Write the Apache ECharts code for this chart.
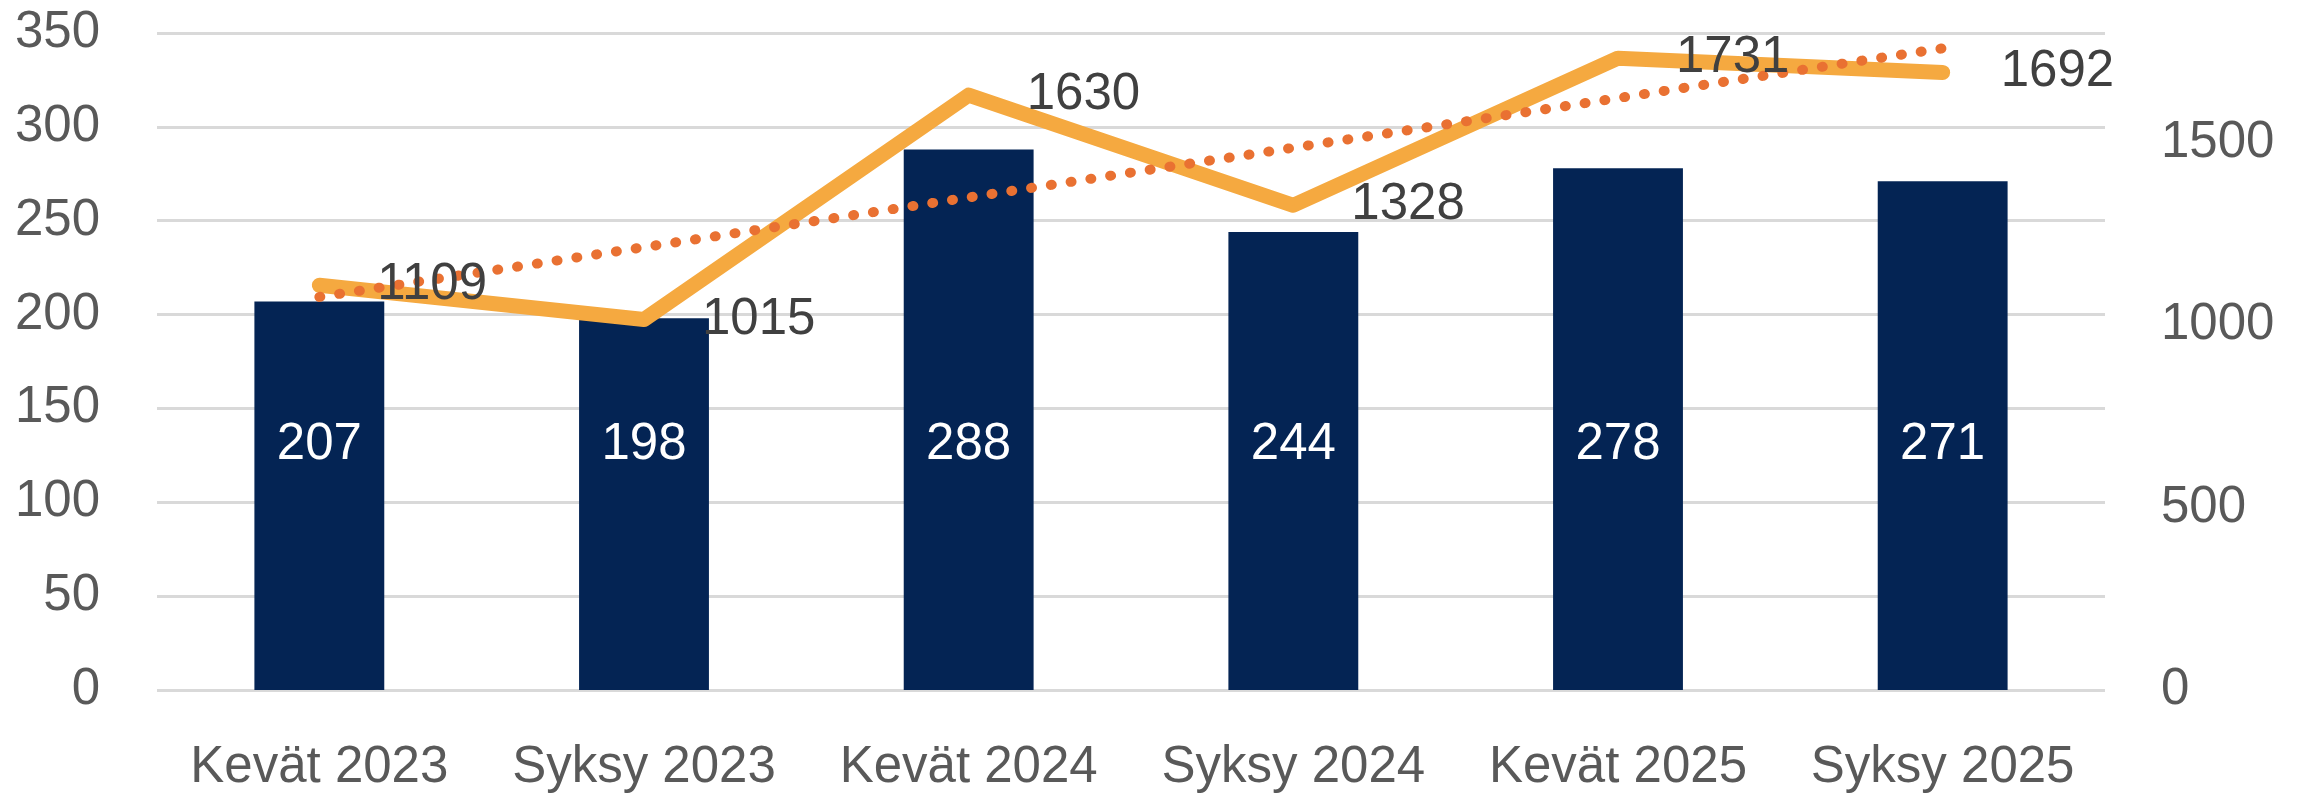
<!DOCTYPE html>
<html>
<head>
<meta charset="utf-8">
<script src="https://cdn.jsdelivr.net/npm/echarts@6/dist/echarts.min.js"></script>
<style>
  html, body { margin: 0; padding: 0; background: #fff; }
  #chart { width: 2305px; height: 793px; }
</style>
</head>
<body>
<div id="chart"></div>
<script>
// categories and values
const categories = ['Kevät 2023', 'Syksy 2023', 'Kevät 2024', 'Syksy 2024', 'Kevät 2025', 'Syksy 2025']
const barValues = [207, 198, 288, 244, 278, 271]
const lineValues = [1109, 1015, 1630, 1328, 1731, 1692]
// dotted trend line: start and end
const trendValues = [1077, null, null, null, null, 1758]

const font = 'Liberation Sans, Arial, sans-serif'

const option = {
  animation: false,
  grid: { left: 157, right: 200, top: 33, bottom: 103 },
  xAxis: {
    type: 'category',
    data: categories,
    axisLine: { show: false },
    axisTick: { show: false },
    axisLabel: { color: '#595959', fontSize: 51, fontFamily: font, margin: 52, interval: 0 },
  },
  yAxis: [
    {
      type: 'value',
      min: 0,
      max: 350,
      interval: 50,
      axisLine: { show: false },
      axisTick: { show: false },
      axisLabel: { color: '#595959', fontSize: 51, fontFamily: font, margin: 57 },
      splitLine: { lineStyle: { color: '#D9D9D9', width: 3 } },
    },
    {
      type: 'value',
      min: 0,
      max: 1800,
      interval: 500,
      axisLine: { show: false },
      axisTick: { show: false },
      axisLabel: {
        color: '#595959',
        fontSize: 51,
        fontFamily: font,
        margin: 56,
        showMaxLabel: false,
        formatter: (v) => String(v),
      },
      splitLine: { show: false },
    },
  ],
  series: [
    {
      type: 'bar',
      data: barValues,
      barCategoryGap: '60%',
      itemStyle: { color: '#042454' },
      label: {
        show: true,
        position: 'insideBottom',
        distance: 220,
        color: '#fff',
        fontSize: 51,
        fontFamily: font,
      },
    },
    {
      type: 'line',
      yAxisIndex: 1,
      data: lineValues,
      symbol: 'circle',
      symbolSize: 2,
      itemStyle: { color: '#F5A940' },
      lineStyle: { color: '#F5A940', width: 15, cap: 'round', join: 'round' },
      label: {
        show: true,
        position: 'right',
        distance: 57,
        color: '#404040',
        fontSize: 51,
        fontFamily: font,
      },
    },
    {
      type: 'line',
      yAxisIndex: 1,
      data: trendValues,
      connectNulls: true,
      symbol: 'none',
      lineStyle: { color: '#E97132', width: 10, type: [1, 19], cap: 'round' },
      z: 3,
    },
  ],
}

const chart = echarts.init(document.getElementById('chart'))
chart.setOption(option)
</script>
</body>
</html>
